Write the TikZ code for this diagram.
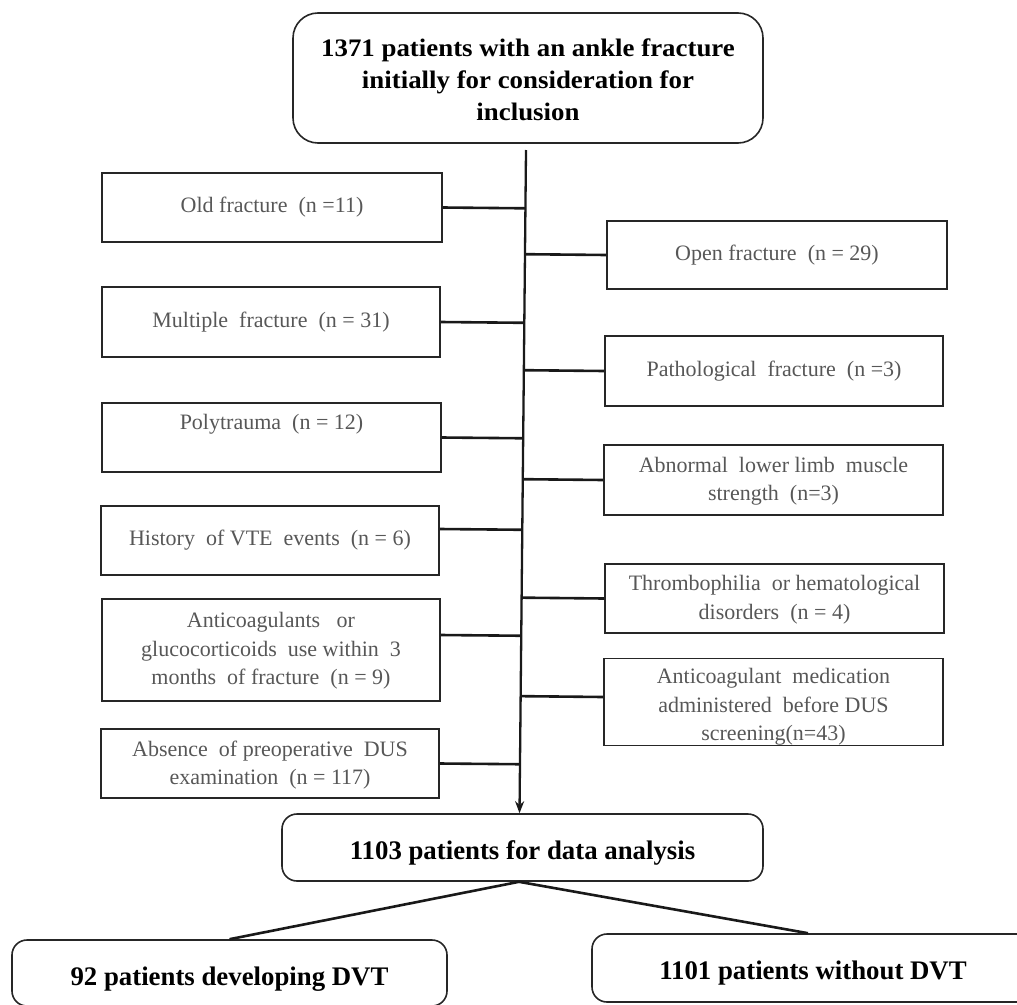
\documentclass[tikz,border=0pt]{standalone}
\usepackage{fontspec}
\setmainfont{Liberation Serif}
\newfontfamily\topfont[FakeStretch=1.066]{Liberation Serif}
\usetikzlibrary{calc,arrows.meta}
\newcommand\addup[1]{\rule{0pt}{#1}}
\newcommand\adddn[1]{\rule[-#1]{0pt}{#1}}
\begin{document}
\begin{tikzpicture}[x=1pt,y=-1pt,
  excl/.style={draw=black!85, line width=1.6pt, minimum width=338pt, align=center,
    text=black!66, font=\fontsize{22}{28.5}\selectfont, inner sep=0pt},
  mainbox/.style={draw=black!85, line width=1.6pt, rounded corners=15pt, align=center,
    font=\bfseries\fontsize{26.8}{36}\selectfont, inner sep=0pt},
  conn/.style={line width=2.6pt, black!90},
  mline/.style={line width=2.3pt, black!90}]
\useasboundingbox (0,0) rectangle (1017,1004);
% top box
\node[mainbox, rounded corners=25pt, minimum width=470pt, minimum height=130pt,
  font=\topfont\bfseries\fontsize{25.2}{32}\selectfont] (top) at (528,78)
  {\addup{20.5pt}1371 patients with an ankle fracture\\initially for consideration for\\inclusion};
% left exclusion boxes
\node[excl, minimum width=340pt, minimum height=69pt] (old) at (272,207.5) {Old fracture~ (n =11)};
\node[excl, minimum height=70pt] (mult) at (271,322) {Multiple~ fracture~ (n = 31)};
\node[excl, minimum width=339pt, minimum height=69pt] (poly) at (271.5,437.5) {Polytrauma~ (n = 12)\adddn{30.3pt}};
\node[excl, minimum height=69pt] (hist) at (270,540.5) {History~ of VTE~ events~ (n = 6)};
\node[excl, minimum height=102pt] (anti) at (271,650) {\addup{17.5pt}Anticoagulants~~ or\\glucocorticoids~ use within~ 3\\months~ of fracture~ (n = 9)};
\node[excl, minimum height=69pt] (abs) at (270,763.5) {\addup{19pt}Absence~ of preoperative~ DUS\\examination~ (n = 117)};
% right exclusion boxes
\node[excl, minimum width=340pt, minimum height=68pt] (open) at (777,255) {Open fracture~ (n = 29)};
\node[excl, minimum height=70pt] (path) at (774,371) {Pathological~ fracture~ (n =3)};
\node[excl, minimum width=339pt, minimum height=70pt] (abn) at (773.5,480) {\addup{17.5pt}Abnormal~ lower limb~ muscle\\strength~ (n=3)};
\node[excl, minimum width=339pt, minimum height=69pt] (thr) at (774.5,598.5) {\addup{17.5pt}Thrombophilia~ or hematological\\disorders~ (n = 4)};
\node[excl, minimum width=339pt, minimum height=86pt] (med) at (773.5,702) {\addup{25pt}Anticoagulant~ medication\\administered~ before DUS\\screening(n=43)};
% analysis boxes
\node[mainbox, minimum width=481pt, minimum height=67pt] (ana) at (522.5,847.5) {\addup{29.5pt}1103 patients for data analysis};
\node[mainbox, minimum width=435pt, minimum height=66pt] (dvt) at (229.5,973) {\addup{30pt}92 patients developing DVT};
\node[mainbox, minimum width=442pt, minimum height=68pt] (nodvt) at (813,968) {\addup{28.5pt}1101 patients without DVT};
% main line
\coordinate (mtop) at (526,150);
\coordinate (mbot) at ([xshift=-3pt]ana.north);
\draw[mline, -{Stealth[length=12pt,width=9pt]}] (mtop) -- (mbot);
% connectors left
\draw[conn] (old.east) -- ($(mtop)!(old.east)!(mbot)$);
\draw[conn] (mult.east) -- ($(mtop)!(mult.east)!(mbot)$);
\draw[conn] (poly.east) -- ($(mtop)!(poly.east)!(mbot)$);
\draw[conn] ([yshift=11.5pt]hist.east) -- ($(mtop)!([yshift=11.5pt]hist.east)!(mbot)$);
\draw[conn] ([yshift=15pt]anti.east) -- ($(mtop)!([yshift=15pt]anti.east)!(mbot)$);
\draw[conn] (abs.east) -- ($(mtop)!(abs.east)!(mbot)$);
% connectors right
\draw[conn] (open.west) -- ($(mtop)!(open.west)!(mbot)$);
\draw[conn] (path.west) -- ($(mtop)!(path.west)!(mbot)$);
\draw[conn] (abn.west) -- ($(mtop)!(abn.west)!(mbot)$);
\draw[conn] (thr.west) -- ($(mtop)!(thr.west)!(mbot)$);
\draw[conn] ([yshift=5pt]med.west) -- ($(mtop)!([yshift=5pt]med.west)!(mbot)$);
% split lines
\draw[conn] ([xshift=-3.5pt]ana.south) -- (dvt.north);
\draw[conn] ([xshift=-3.5pt]ana.south) -- ([xshift=-5pt]nodvt.north);
\end{tikzpicture}
\end{document}
